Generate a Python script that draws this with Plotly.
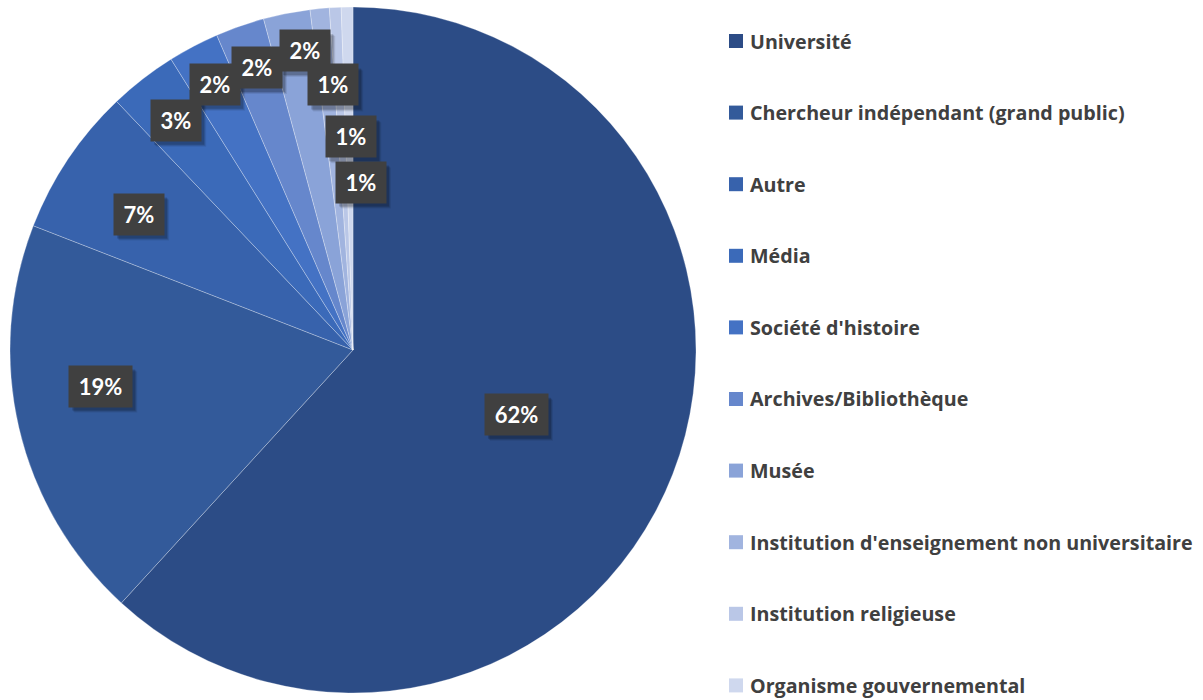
import math
import plotly.graph_objects as go

# ---- data ----
categories = [
    "Université",
    "Chercheur indépendant (grand public)",
    "Autre",
    "Média",
    "Société d'histoire",
    "Archives/Bibliothèque",
    "Musée",
    "Institution d'enseignement non universitaire",
    "Institution religieuse",
    "Organisme gouvernemental",
]
values = [61.8, 19.1, 7.0, 3.2, 2.4, 2.3, 2.2, 0.9, 0.55, 0.55]
colors = ["#2C4C86", "#335A9A", "#3762AC", "#3B6AB9", "#4472C4",
          "#6687CC", "#8AA3D8", "#A1B4DF", "#BAC7E7", "#CFD8EE"]

# ---- layout parameters ----
W, H = 1203, 700
cx_px, cy_px, R_px = 353, 350, 343
dom_x = [(cx_px - R_px) / W, (cx_px + R_px) / W]
dom_y = [1 - (cy_px + R_px) / H, 1 - (cy_px - R_px) / H]
# per-label placement (radius fraction, angle nudge in degrees)
label_r = [0.512, 0.743, 0.739, 0.845, 0.873, 0.870, 0.884, 0.775, 0.622, 0.490]
label_da = [0.2, 5.0, -1.4, 0.2, 0.3, 0.5, 2.1, 1.3, 2.5, 3.7]
PAD, BOX_H = 6, 29

fig = go.Figure()
fig.add_trace(go.Pie(
    labels=categories, values=values, sort=False, direction="clockwise",
    rotation=0, marker=dict(colors=colors, line=dict(color="rgba(255,255,255,0.35)", width=0.8)),
    textinfo="none", domain=dict(x=dom_x, y=dom_y), showlegend=False,
    hovertemplate="%{label}: %{percent}<extra></extra>",
))

total = sum(values)
annotations = []
shapes = []
cum = 0.0
for i, v in enumerate(values):
    mid = (cum + v / 2) / total * 360 + label_da[i]
    cum += v
    r = label_r[i] * R_px
    px = cx_px + r * math.sin(math.radians(mid))
    py = cy_px - r * math.cos(math.radians(mid))
    txt = f"{round(v / total * 100):.0f}%"
    bw = 38 if len(txt) == 2 else 51
    # soft drop shadow
    hw, hh = bw / 2 + PAD, BOX_H / 2 + PAD
    for off, alpha in ((5, 0.08), (4, 0.12), (3, 0.16)):
        shapes.append(dict(type="rect", xref="paper", yref="paper", layer="above",
                           x0=(px - hw + off) / W, x1=(px + hw + off) / W,
                           y0=1 - (py + hh + off + 1) / H, y1=1 - (py - hh + off + 1) / H,
                           fillcolor=f"rgba(0,0,0,{alpha})", line=dict(width=0)))
    annotations.append(dict(
        x=px / W, y=1 - py / H, xref="paper", yref="paper",
        xanchor="center", yanchor="middle", showarrow=False,
        borderpad=PAD, width=bw, height=BOX_H,
        text=f"<b>{txt}</b>", font=dict(family="Lato", size=22, color="white"),
        bgcolor="#404040",
    ))

# legend built manually (row spacing)
leg_top, leg_step = 41, 71.6
for i, (c, col) in enumerate(zip(categories, colors)):
    y = leg_top + i * leg_step
    shapes.append(dict(type="rect", xref="paper", yref="paper",
                       x0=729 / W, x1=743 / W, y0=1 - (y + 7) / H, y1=1 - (y - 7) / H,
                       fillcolor=col, line=dict(width=0)))
    annotations.append(dict(
        x=748 / W, y=1 - y / H, xref="paper", yref="paper", text=f"<b>{c}</b>",
        xanchor="left", yanchor="middle", showarrow=False,
        font=dict(family="Open Sans", size=19.7, color="#404040"),
    ))

fig.update_layout(
    width=W, height=H, margin=dict(l=0, r=0, t=0, b=0),
    paper_bgcolor="white", plot_bgcolor="white",
    annotations=annotations, shapes=shapes, showlegend=False,
)
fig.write_html("out.html")
